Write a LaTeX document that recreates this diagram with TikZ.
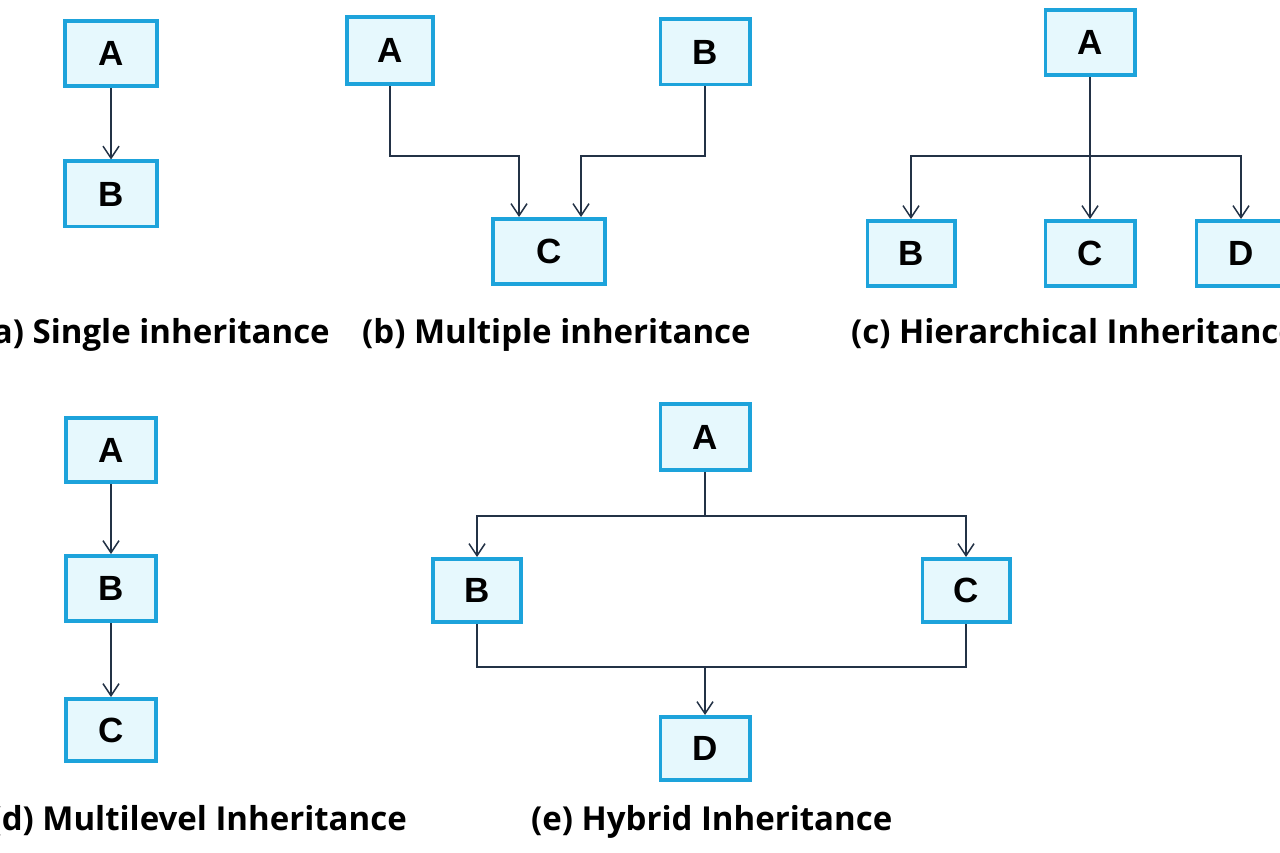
\documentclass[tikz,border=0pt]{standalone}
\usepackage{fontspec}
\setmainfont{Open Sans}
\newfontfamily\boxfont{Liberation Sans}
\usetikzlibrary{arrows.meta}
\definecolor{boxblue}{RGB}{29,163,219}
\definecolor{boxfill}{RGB}{230,248,253}
\definecolor{linec}{RGB}{35,50,70}
\begin{document}
\begin{tikzpicture}[x=1pt,y=-1pt,
  cls/.style={draw=boxblue, fill=boxfill, line width=3.6pt, minimum width=89.4pt, minimum height=65.4pt,
    inner sep=0pt, font=\boxfont\bfseries\fontsize{35}{35}\selectfont},
  arr/.style={draw=linec, line width=1.5pt, -{Straight Barb[length=12pt,width=16pt,line width=1.5pt]}},
  ln/.style={draw=linec, line width=1.5pt},
  captxt/.style={inner sep=0pt, font=\bfseries\fontsize{33}{36}\selectfont}]
\useasboundingbox (0,0) rectangle (1280,853);
\fill[white] (0,0) rectangle (1280,853);

% (a) single
\node[cls, minimum width=92.4pt] (aA) at (111,53.5) {A};
\node[cls, minimum width=92.4pt] (aB) at (111,194) {B};
\draw[arr] (aA.south) -- (aB.north);
\node[captxt, anchor=base east] (capa) at (330,343) {(a) Single inheritance};

% (b) multiple
\node[cls, minimum width=86.4pt, minimum height=67.4pt] (bA) at (390,50.5) {A};
\node[cls] (bB) at (705,52) {B};
\node[cls, minimum width=112.4pt] (bC) at (549,251.5) {C};
\coordinate (bl) at (519,156);
\coordinate (br) at (581,156);
\draw[arr] (bA.south) |- (bl) -- (bl |- bC.north);
\draw[arr] (bB.south) |- (br) -- (br |- bC.north);
\node[captxt, anchor=base west] (capb) at (362,343) {(b) Multiple inheritance};

% (c) hierarchical
\node[cls] (cA) at (1090,42.5) {A};
\node[cls, minimum width=87.4pt] (cB) at (911,253.5) {B};
\node[cls] (cC) at (1090,253.5) {C};
\node[cls] (cD) at (1241,253.5) {D};
\coordinate (cj) at (1090,156);
\draw[arr] (cA.south) -- (cC.north);
\draw[arr] (cj) -| (cB.north);
\draw[arr] (cj) -| (cD.north);
\node[captxt, anchor=base west] (capc) at (851,343) {(c) Hierarchical Inheritance};

% (d) multilevel
\node[cls, minimum width=90.4pt, minimum height=64.4pt] (dA) at (111,450) {A};
\node[cls, minimum width=90.4pt] (dB) at (111,588.5) {B};
\node[cls, minimum width=90.4pt, minimum height=62.4pt] (dC) at (111,730) {C};
\draw[arr] (dA.south) -- (dB.north);
\draw[arr] (dB.south) -- (dC.north);
\node[captxt, anchor=base east] (capd) at (407,830) {(d) Multilevel Inheritance};

% (e) hybrid
\node[cls, minimum height=66.4pt] (eA) at (705,437) {A};
\node[cls, minimum width=88.4pt, minimum height=63.4pt] (eB) at (477,590.5) {B};
\node[cls, minimum width=87.4pt, minimum height=63.4pt] (eC) at (966,590.5) {C};
\node[cls, minimum height=63.4pt] (eD) at (705,748.5) {D};
\coordinate (ej) at (705,516);
\coordinate (ek) at (705,667);
\draw[ln] (eA.south) -- (ej);
\draw[arr] (ej) -| (eB.north);
\draw[arr] (ej) -| (eC.north);
\draw[ln] (eB.south) |- (ek);
\draw[ln] (eC.south) |- (ek);
\draw[arr] (ek) -- (eD.north);
\node[captxt, anchor=base west] (cape) at (531,830) {(e) Hybrid Inheritance};
\end{tikzpicture}
\end{document}
